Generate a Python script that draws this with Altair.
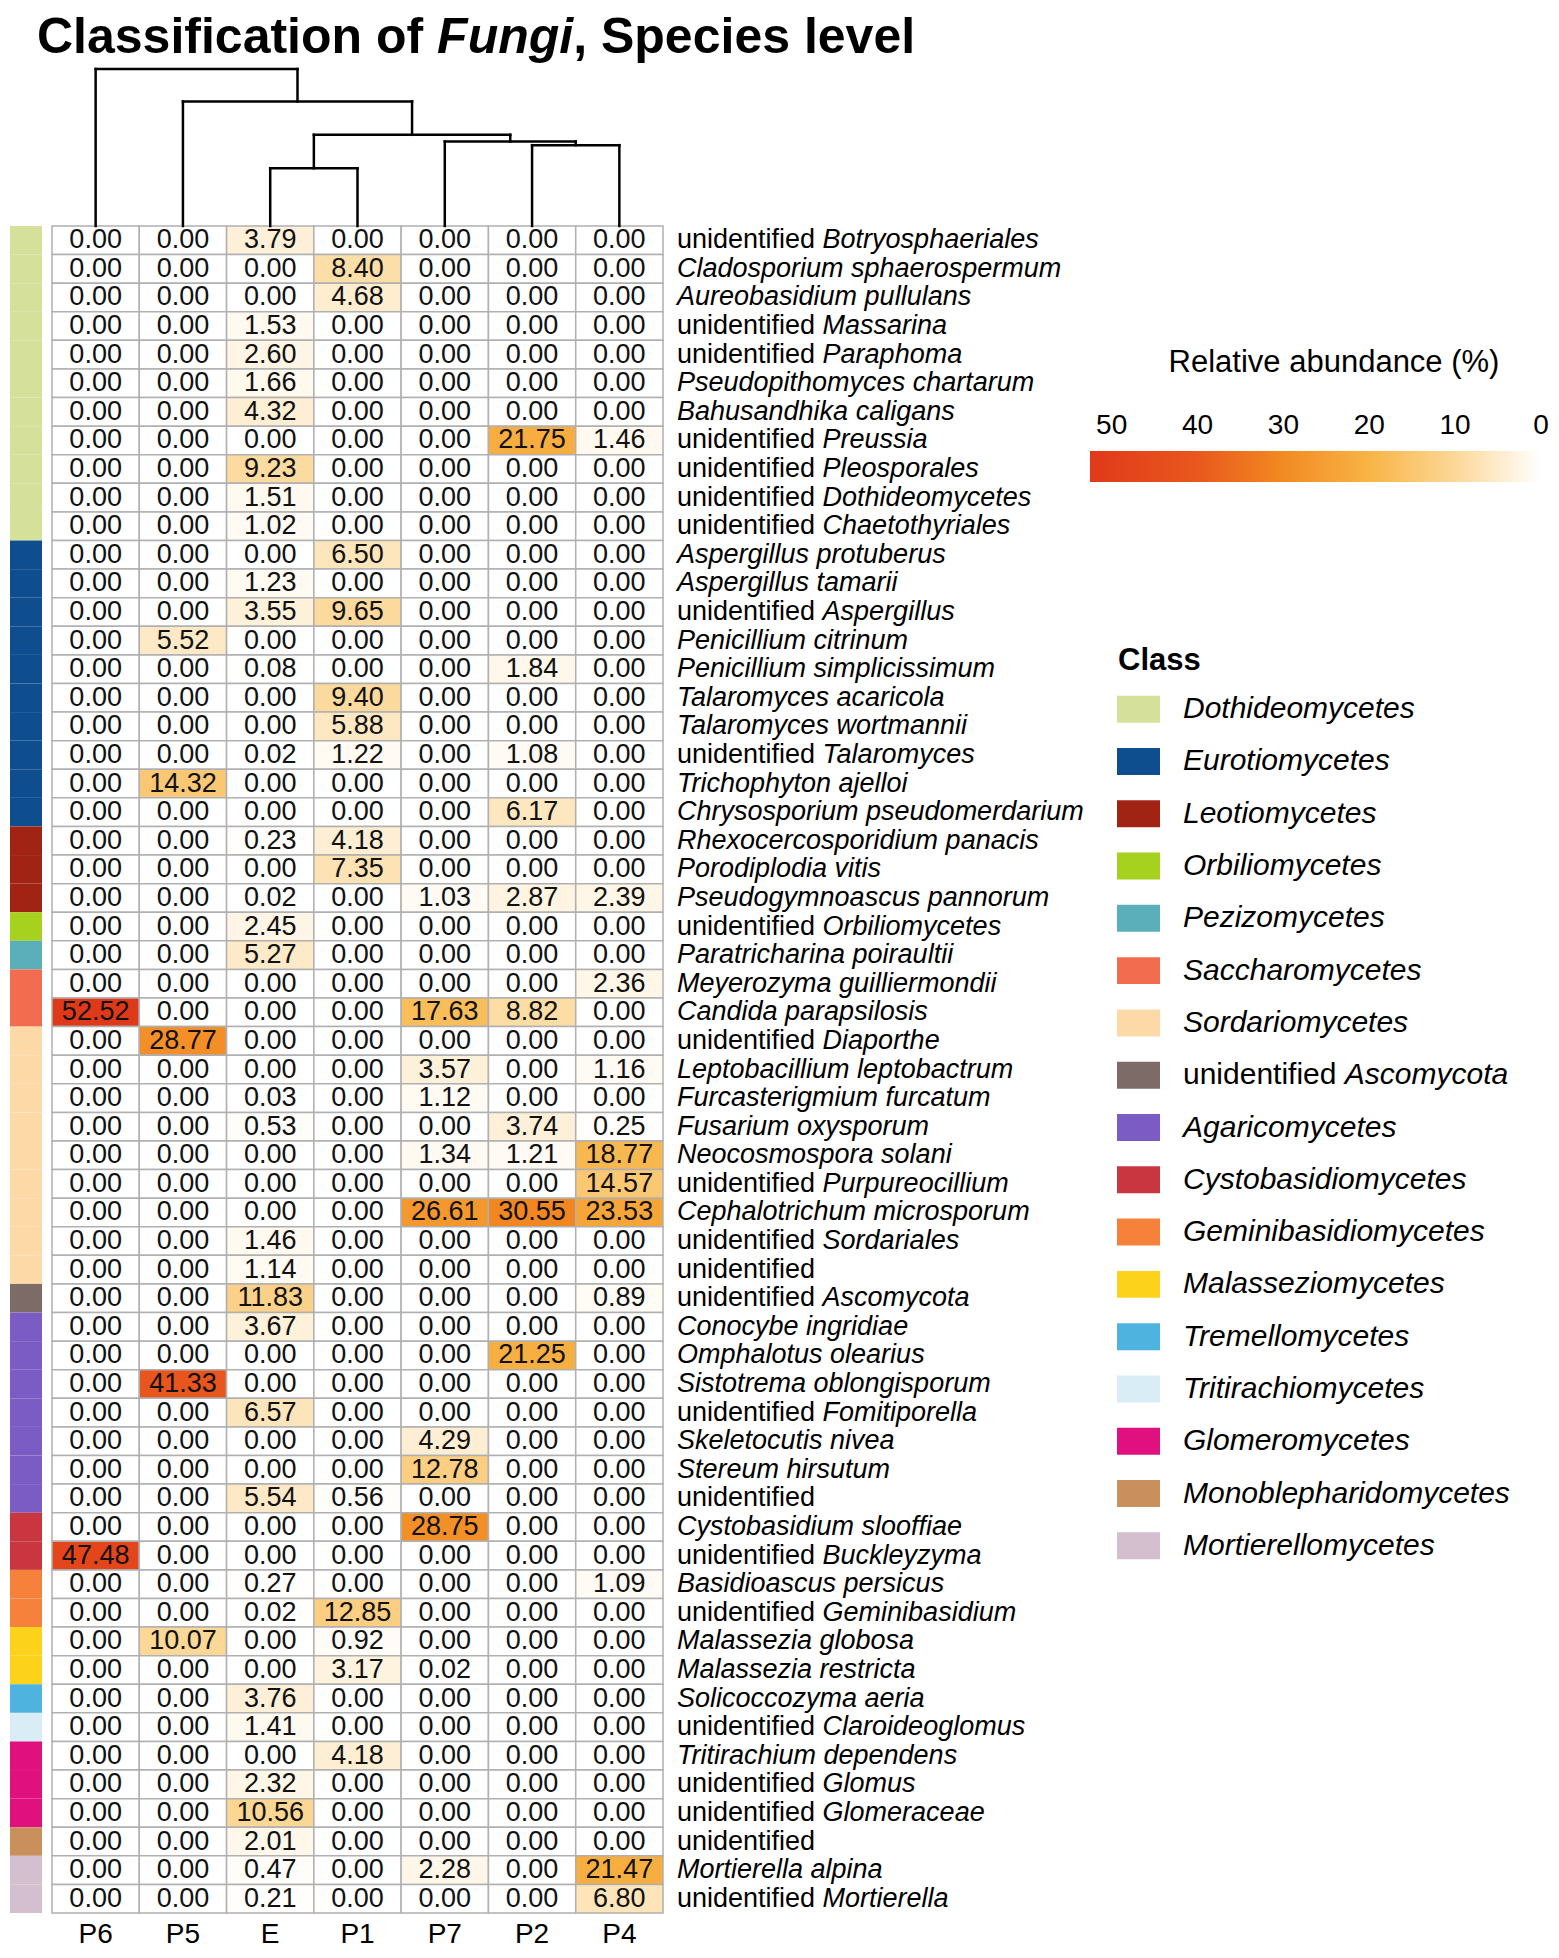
import altair as alt
import pandas as pd

FONT = "Liberation Sans"

samples = ["P6", "P5", "E", "P1", "P7", "P2", "P4"]

species = [
    "unidentified Botryosphaeriales", "Cladosporium sphaerospermum", "Aureobasidium pullulans",
    "unidentified Massarina", "unidentified Paraphoma", "Pseudopithomyces chartarum",
    "Bahusandhika caligans", "unidentified Preussia", "unidentified Pleosporales",
    "unidentified Dothideomycetes", "unidentified Chaetothyriales", "Aspergillus protuberus",
    "Aspergillus tamarii", "unidentified Aspergillus", "Penicillium citrinum",
    "Penicillium simplicissimum", "Talaromyces acaricola", "Talaromyces wortmannii",
    "unidentified Talaromyces", "Trichophyton ajelloi", "Chrysosporium pseudomerdarium",
    "Rhexocercosporidium panacis", "Porodiplodia vitis", "Pseudogymnoascus pannorum",
    "unidentified Orbiliomycetes", "Paratricharina poiraultii", "Meyerozyma guilliermondii",
    "Candida parapsilosis", "unidentified Diaporthe", "Leptobacillium leptobactrum",
    "Furcasterigmium furcatum", "Fusarium oxysporum", "Neocosmospora solani",
    "unidentified Purpureocillium", "Cephalotrichum microsporum", "unidentified Sordariales",
    "unidentified", "unidentified Ascomycota", "Conocybe ingridiae",
    "Omphalotus olearius", "Sistotrema oblongisporum", "unidentified Fomitiporella",
    "Skeletocutis nivea", "Stereum hirsutum", "unidentified",
    "Cystobasidium slooffiae", "unidentified Buckleyzyma", "Basidioascus persicus",
    "unidentified Geminibasidium", "Malassezia globosa", "Malassezia restricta",
    "Solicoccozyma aeria", "unidentified Claroideoglomus", "Tritirachium dependens",
    "unidentified Glomus", "unidentified Glomeraceae", "unidentified",
    "Mortierella alpina", "unidentified Mortierella",
]

P6 = [0, 0, 0, 0, 0, 0, 0, 0, 0, 0,
      0, 0, 0, 0, 0, 0, 0, 0, 0, 0,
      0, 0, 0, 0, 0, 0, 0, 52.52, 0, 0,
      0, 0, 0, 0, 0, 0, 0, 0, 0, 0,
      0, 0, 0, 0, 0, 0, 47.48, 0, 0, 0,
      0, 0, 0, 0, 0, 0, 0, 0, 0]
P5 = [0, 0, 0, 0, 0, 0, 0, 0, 0, 0,
      0, 0, 0, 0, 5.52, 0, 0, 0, 0, 14.32,
      0, 0, 0, 0, 0, 0, 0, 0, 28.77, 0,
      0, 0, 0, 0, 0, 0, 0, 0, 0, 0,
      41.33, 0, 0, 0, 0, 0, 0, 0, 0, 10.07,
      0, 0, 0, 0, 0, 0, 0, 0, 0]
E = [3.79, 0, 0, 1.53, 2.60, 1.66, 4.32, 0, 9.23, 1.51,
     1.02, 0, 1.23, 3.55, 0, 0.08, 0, 0, 0.02, 0,
     0, 0.23, 0, 0.02, 2.45, 5.27, 0, 0, 0, 0,
     0.03, 0.53, 0, 0, 0, 1.46, 1.14, 11.83, 3.67, 0,
     0, 6.57, 0, 0, 5.54, 0, 0, 0.27, 0.02, 0,
     0, 3.76, 1.41, 0, 2.32, 10.56, 2.01, 0.47, 0.21]
P1 = [0, 8.40, 4.68, 0, 0, 0, 0, 0, 0, 0,
      0, 6.50, 0, 9.65, 0, 0, 9.40, 5.88, 1.22, 0,
      0, 4.18, 7.35, 0, 0, 0, 0, 0, 0, 0,
      0, 0, 0, 0, 0, 0, 0, 0, 0, 0,
      0, 0, 0, 0, 0.56, 0, 0, 0, 12.85, 0.92,
      3.17, 0, 0, 4.18, 0, 0, 0, 0, 0]
P7 = [0, 0, 0, 0, 0, 0, 0, 0, 0, 0,
      0, 0, 0, 0, 0, 0, 0, 0, 0, 0,
      0, 0, 0, 1.03, 0, 0, 0, 17.63, 0, 3.57,
      1.12, 0, 1.34, 0, 26.61, 0, 0, 0, 0, 0,
      0, 0, 4.29, 12.78, 0, 28.75, 0, 0, 0, 0,
      0.02, 0, 0, 0, 0, 0, 0, 2.28, 0]
P2 = [0, 0, 0, 0, 0, 0, 0, 21.75, 0, 0,
      0, 0, 0, 0, 0, 1.84, 0, 0, 1.08, 0,
      6.17, 0, 0, 2.87, 0, 0, 0, 8.82, 0, 0,
      0, 3.74, 1.21, 0, 30.55, 0, 0, 0, 0, 21.25,
      0, 0, 0, 0, 0, 0, 0, 0, 0, 0,
      0, 0, 0, 0, 0, 0, 0, 0, 0]
P4 = [0, 0, 0, 0, 0, 0, 0, 1.46, 0, 0,
      0, 0, 0, 0, 0, 0, 0, 0, 0, 0,
      0, 0, 0, 2.39, 0, 0, 2.36, 0, 0, 1.16,
      0, 0.25, 18.77, 14.57, 23.53, 0, 0, 0.89, 0, 0,
      0, 0, 0, 0, 0, 0, 0, 1.09, 0, 0,
      0, 0, 0, 0, 0, 0, 0, 21.47, 6.80]

classes = [
    "Dothideomycetes", "Eurotiomycetes", "Leotiomycetes", "Orbiliomycetes",
    "Pezizomycetes", "Saccharomycetes", "Sordariomycetes", "unidentified Ascomycota",
    "Agaricomycetes", "Cystobasidiomycetes", "Geminibasidiomycetes", "Malasseziomycetes",
    "Tremellomycetes", "Tritirachiomycetes", "Glomeromycetes", "Monoblepharidomycetes",
    "Mortierellomycetes",
]
class_counts = [11, 10, 3, 1, 1, 2, 9, 1, 7, 2, 2, 2, 1, 1, 3, 1, 2]
class_colors = [
    "#d5e09a", "#0e4e8f", "#a02314", "#a6d11e", "#5aafbb", "#f26c4f", "#fdd9a8",
    "#7d6b68", "#7b5cc4", "#c9363f", "#f5813a", "#fdd21a", "#4fb3e0", "#d9edf7",
    "#e0117f", "#c98f5c", "#d4bfcf",
]

# hierarchical clustering of the samples: (left, right, height, node name)
merges = [
    ("E", "P1", 173, "n1"),
    ("P2", "P4", 242, "n2"),
    ("P7", "n2", 253, "n3"),
    ("n1", "n3", 273, "n4"),
    ("P5", "n4", 373, "n5"),
    ("P6", "n5", 470, "n6"),
]

legend_ticks = [50, 40, 30, 20, 10, 0]
ramp_stops = [0, 10, 20, 30, 40]          # + data maximum
ramp_colors = ["#ffffff", "#fcd898", "#f8b446", "#f28a22", "#e9581d", "#e0391a"]

# ---------------- data tables ----------------
cols = {"P6": P6, "P5": P5, "E": E, "P1": P1, "P7": P7, "P2": P2, "P4": P4}
recs = []
for s in samples:
    for i, v in enumerate(cols[s]):
        recs.append({"row": i, "sample": s, "value": v, "label": f"{v:.2f}"})
heat_df = pd.DataFrame(recs)
vmax = float(heat_df["value"].max())
ramp_domain = ramp_stops + [vmax]
rows = list(range(len(species)))


def split_name(n):
    if n.startswith("unidentified"):
        return "unidentified", n[len("unidentified"):].strip()
    return "", n


lab_recs = []
for i, n in enumerate(species):
    p, r = split_name(n)
    lab_recs.append({"row": i, "prefix": p, "rest": r, "has": 1 if p else 0})
lab_df = pd.DataFrame(lab_recs)

row_cls = []
for c, k in zip(classes, class_counts):
    row_cls += [c] * k
cls_df = pd.DataFrame({"row": rows, "cls": row_cls})

leg_recs = []
for c in classes:
    p, r = split_name(c)
    leg_recs.append({"cls": c, "prefix": p, "rest": r, "has": 1 if p else 0})
leg_df = pd.DataFrame(leg_recs)

pos = {s: i for i, s in enumerate(samples)}
hgt = {s: 0 for s in samples}
segs = []
for l, r, h, name in merges:
    xl, xr = pos[l], pos[r]
    segs.append({"x": xl, "x2": xl, "y": hgt[l], "y2": h})
    segs.append({"x": xr, "x2": xr, "y": hgt[r], "y2": h})
    segs.append({"x": xl, "x2": xr, "y": h, "y2": h})
    pos[name] = (xl + xr) / 2
    hgt[name] = h
seg_df = pd.DataFrame(segs)

# ---------------- geometry ----------------
HW, HH = 611, 1687
DH = 157            # dendrogram height above the heatmap
BAR_W = 32
ROW_FS = 27
GAP = 10

class_scale = alt.Scale(domain=classes, range=class_colors)
row_scale = alt.Scale(domain=rows, paddingInner=0, paddingOuter=0)
col_scale = alt.Scale(domain=samples, paddingInner=0, paddingOuter=0)

# ---------------- class bar ----------------
yrow = alt.Y("row:O", axis=None, scale=row_scale)
classbar = alt.Chart(cls_df).mark_rect().encode(
    y=yrow,
    color=alt.Color("cls:N", scale=class_scale, legend=None),
).properties(width=BAR_W, height=HH)

# ---------------- heatmap ----------------
xs = alt.X("sample:N", title=None, scale=col_scale,
           axis=alt.Axis(orient="bottom", ticks=False, domain=False, labelAngle=0,
                         labelFontSize=28, labelFont=FONT, labelColor="black",
                         labelPadding=7))

color_val = alt.Color(
    "value:Q",
    scale=alt.Scale(domain=ramp_domain, range=ramp_colors, interpolate="rgb"),
    legend=None,
)

cells = alt.Chart(heat_df).mark_rect(stroke="#b0b0b0", strokeWidth=1.5).encode(
    x=xs, y=yrow, color=color_val)
nums = alt.Chart(heat_df).mark_text(font=FONT, fontSize=ROW_FS, color="#111111",
                                    baseline="middle").encode(
    x=alt.X("sample:N", axis=None, scale=col_scale), y=yrow, text="label:N")

LX = HW + 14
lkw = dict(align="left", baseline="middle", font=FONT, fontSize=ROW_FS, color="black")
lab_pre = alt.Chart(lab_df).mark_text(**lkw).encode(x=alt.value(LX), y=yrow, text="prefix:N")
lab_it1 = alt.Chart(lab_df).transform_filter("datum.has == 1").mark_text(
    fontStyle="italic", dx=5.392 * ROW_FS, **lkw).encode(x=alt.value(LX), y=yrow, text="rest:N")
lab_it0 = alt.Chart(lab_df).transform_filter("datum.has == 0").mark_text(
    fontStyle="italic", **lkw).encode(x=alt.value(LX), y=yrow, text="rest:N")

# dendrogram drawn above the heatmap (its own scales, leaves at the heatmap top)
dendro = alt.Chart(seg_df).mark_rule(color="black", strokeWidth=2.5, strokeCap="square").encode(
    x=alt.X("x:Q", scale=alt.Scale(domain=[-0.5, len(samples) - 0.5], nice=False, zero=False),
            axis=None),
    x2="x2:Q",
    y=alt.Y("y:Q", scale=alt.Scale(domain=[0, max(m[2] for m in merges)], range=[0, -DH],
                                   nice=False, zero=True), axis=None),
    y2="y2:Q",
)

# title (mixed upright / italic pieces)
title_df = pd.DataFrame({"a": ["Classification of "], "b": ["Fungi"], "c": [", Species level"]})
TFS = 50
TX, TY = -15, -173
tkw = dict(align="left", baseline="alphabetic", font=FONT, fontSize=TFS,
           fontWeight="bold", color="black")
t_base = alt.Chart(title_df)
t1 = t_base.mark_text(**tkw).encode(x=alt.value(TX), y=alt.value(TY), text="a:N")
t2 = t_base.mark_text(fontStyle="italic", dx=8.002 * TFS, **tkw).encode(
    x=alt.value(TX), y=alt.value(TY), text="b:N")
t3 = t_base.mark_text(dx=(8.002 + 2.722) * TFS, **tkw).encode(
    x=alt.value(TX), y=alt.value(TY), text="c:N")

heat = alt.layer(cells, nums, lab_pre, lab_it1, lab_it0, dendro, t1, t2, t3).resolve_scale(
    x="independent", y="independent").properties(width=HW, height=HH)

# ---------------- legends (right-hand panel) ----------------
LEG_W = 878
SWX = 444          # swatch left inside the panel
LBX = 510          # class label left
LFS = 30

# colour bar: a rectangle spanning the value range, filled with the same ramp
bar_df = pd.DataFrame({"lo": [0.0], "hi": [vmax]})
tick_df = pd.DataFrame({"v": legend_ticks})
xbar = alt.Scale(domain=[0, vmax], range=[868, 417], nice=False, zero=False)
grad = alt.LinearGradient(
    gradient="linear", x1=0, x2=1, y1=0, y2=0,
    stops=[alt.GradientStop(offset=(vmax - d) / vmax, color=c)
           for d, c in sorted(zip(ramp_domain, ramp_colors), key=lambda t: -t[0])],
)
cbar = alt.Chart(bar_df).mark_rect(fill=grad).encode(
    x=alt.X("hi:Q", scale=xbar, axis=None), x2="lo:Q",
    y=alt.value(225), y2=alt.value(256))
cticks = alt.Chart(tick_df).mark_text(font=FONT, fontSize=28, color="black",
                                      baseline="alphabetic", align="center").encode(
    x=alt.X("v:Q", scale=xbar, axis=None), y=alt.value(208), text="v:Q")
ctitle = alt.Chart(pd.DataFrame({"t": ["Relative abundance (%)"]})).mark_text(
    font=FONT, fontSize=31, color="black", baseline="alphabetic", align="center").encode(
    x=alt.value(661), y=alt.value(146), text="t:N")

ycls = alt.Y("cls:N", sort=classes, axis=None,
             scale=alt.Scale(domain=classes, range=[457, 1346],
                             paddingInner=0.484, paddingOuter=0.242))
sw = alt.Chart(leg_df).mark_rect().encode(
    y=ycls, x=alt.value(SWX), x2=alt.value(SWX + 43),
    color=alt.Color("cls:N", scale=class_scale, legend=None))
gkw = dict(align="left", baseline="middle", font=FONT, fontSize=LFS, color="black")
lg_pre = alt.Chart(leg_df).mark_text(**gkw).encode(x=alt.value(LBX), y=ycls, text="prefix:N")
lg_it1 = alt.Chart(leg_df).transform_filter("datum.has == 1").mark_text(
    fontStyle="italic", dx=5.392 * LFS, **gkw).encode(x=alt.value(LBX), y=ycls, text="rest:N")
lg_it0 = alt.Chart(leg_df).transform_filter("datum.has == 0").mark_text(
    fontStyle="italic", **gkw).encode(x=alt.value(LBX), y=ycls, text="rest:N")
lg_title = alt.Chart(pd.DataFrame({"t": ["Class"]})).mark_text(
    align="left", baseline="alphabetic", font=FONT, fontSize=31, fontWeight="bold",
    color="black").encode(x=alt.value(SWX + 1), y=alt.value(444), text="t:N")

legend_chart = alt.layer(cbar, cticks, ctitle, sw, lg_pre, lg_it1, lg_it0, lg_title
                         ).properties(width=LEG_W, height=HH)

# ---------------- assemble ----------------
chart = alt.hconcat(classbar, heat, legend_chart, spacing=GAP, bounds="flush").resolve_scale(
    x="independent", y="independent", color="independent"
).properties(
    padding={"left": 2, "top": 5, "right": 0, "bottom": 0}, background="white"
).configure_view(stroke=None)

chart.save("out.html", embed_options={"renderer": "svg", "actions": False})
